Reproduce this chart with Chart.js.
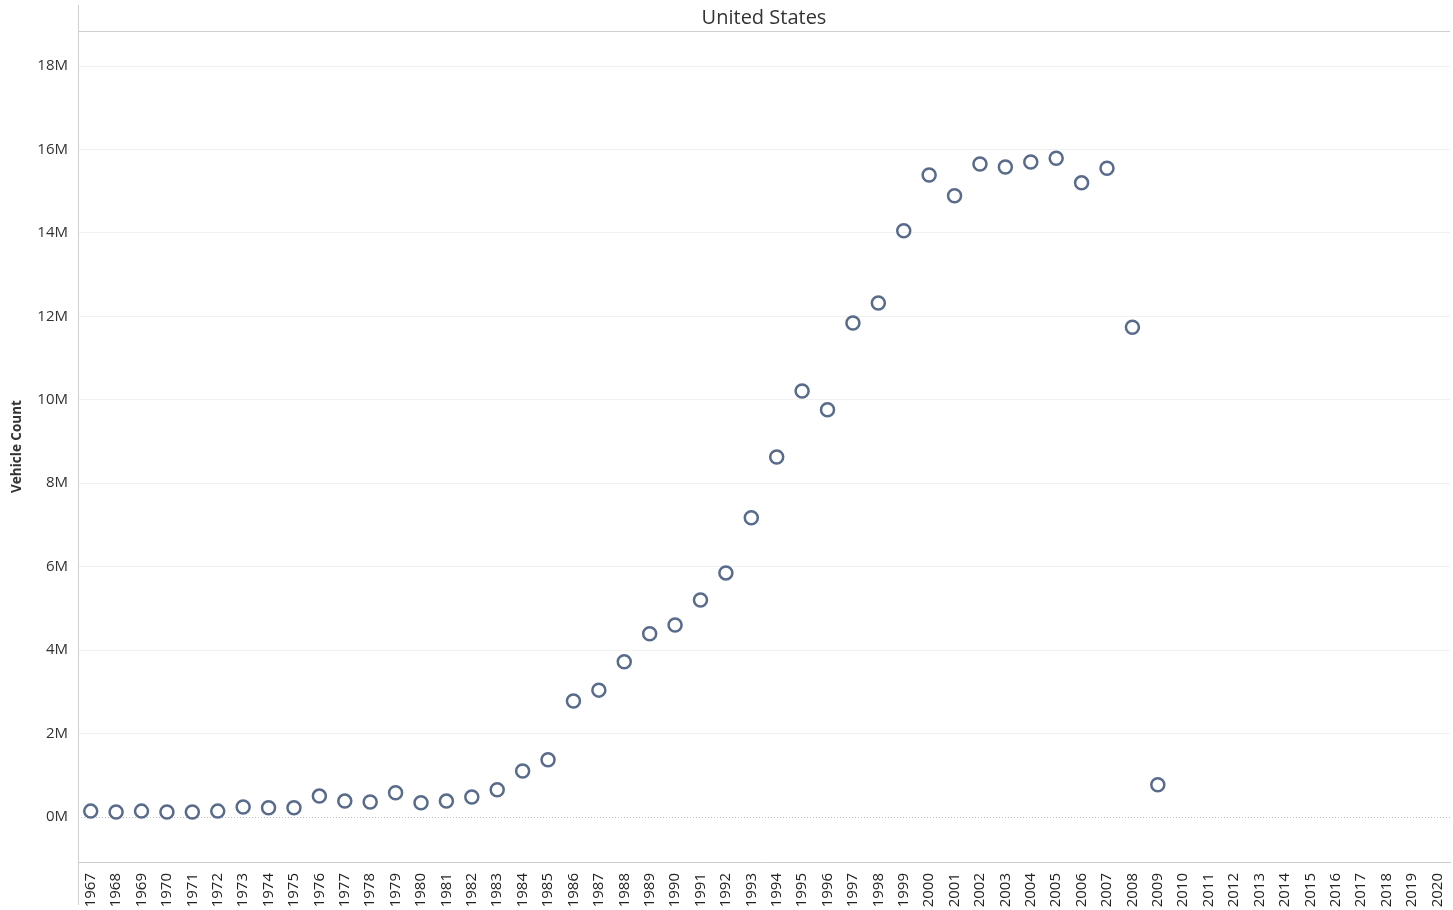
<!DOCTYPE html>
<html>
<head>
<meta charset="utf-8">
<script src="https://cdn.jsdelivr.net/npm/chart.js@4.4.0/dist/chart.umd.min.js"></script>
<style>
  html, body { margin: 0; padding: 0; background: #fff; }
  #wrap { width: 1453px; height: 910px; position: relative; }
</style>
</head>
<body>
<div id="wrap"><canvas id="chart"></canvas></div>
<script>
// years on the x axis
var years = [];
for (var y = 1967; y <= 2020; y++) years.push(String(y));

// vehicle counts (millions), 1967..2009, nothing after
var vehicleCount = [
    0.14, 0.12, 0.14, 0.12, 0.12, 0.14, 0.24, 0.22, 0.22, 0.50,
    0.38, 0.36, 0.58, 0.34, 0.38, 0.48, 0.65, 1.10, 1.37, 2.78,
    3.04, 3.72, 4.39, 4.60, 5.20, 5.85, 7.17, 8.63, 10.21, 9.76,
    11.84, 12.32, 14.05, 15.39, 14.89, 15.65, 15.58, 15.70, 15.79, 15.20,
    15.55, 11.74, 0.77
];

var yTicks = [0, 2, 4, 6, 8, 10, 12, 14, 16, 18];

var chartTitle = 'United States';
var yTitle = 'Vehicle Count';

var points = years.map(function(yr, i) {
    return i < vehicleCount.length ? vehicleCount[i] * 1e6 : null;
});

var FONT = '"Open Sans", "Noto Sans", sans-serif';

// frame: title band, header rule, left rule and dotted zero line
var framePlugin = {
    id: 'frame',
    beforeDatasetsDraw: function(chart) {
        var ctx = chart.ctx, a = chart.chartArea;
        var y0 = Math.round(chart.scales.y.getPixelForValue(0)) + 0.5;
        ctx.save();
        ctx.strokeStyle = '#bdbdbd';
        ctx.lineWidth = 1;
        ctx.setLineDash([1, 2]);
        ctx.beginPath();
        ctx.moveTo(a.left, y0);
        ctx.lineTo(a.right, y0);
        ctx.stroke();
        ctx.restore();
    },
    afterDraw: function(chart) {
        var ctx = chart.ctx, a = chart.chartArea;
        ctx.save();
        ctx.strokeStyle = '#cfcfcf';
        ctx.lineWidth = 1;
        ctx.beginPath();
        ctx.moveTo(a.left, a.top + 0.5);
        ctx.lineTo(a.right, a.top + 0.5);
        ctx.moveTo(a.left + 0.5, 5);
        ctx.lineTo(a.left + 0.5, 905);
        ctx.stroke();

        ctx.fillStyle = '#333';
        ctx.font = '20px ' + FONT;
        ctx.textAlign = 'center';
        ctx.textBaseline = 'middle';
        ctx.fillText(chartTitle, (a.left + a.right) / 2, 18);

        ctx.translate(17, (a.top + a.bottom) / 2);
        ctx.rotate(-Math.PI / 2);
        ctx.font = 'bold 13.5px ' + FONT;
        ctx.fillStyle = '#333';
        ctx.fillText(yTitle, 0, 0);
        ctx.restore();
    }
};

new Chart(document.getElementById('chart'), {
    type: 'line',
    data: {
        labels: years,
        datasets: [{
            label: 'Vehicle Count',
            data: points,
            showLine: false,
            pointStyle: 'circle',
            pointRadius: 6.5,
            pointHoverRadius: 6.5,
            pointBorderWidth: 2.5,
            pointBorderColor: '#586b8b',
            pointBackgroundColor: 'rgba(255,255,255,0)'
        }]
    },
    options: {
        responsive: true,
        maintainAspectRatio: false,
        animation: false,
        layout: {
            autoPadding: false,
            padding: { top: 31, right: 3, left: 0, bottom: 0 }
        },
        plugins: {
            legend: { display: false },
            title: { display: false },
            tooltip: { enabled: false }
        },
        scales: {
            x: {
                offset: true,
                grid: { display: false },
                border: { display: true, color: '#cccccc', dash: [1, 1] },
                ticks: {
                    autoSkip: false,
                    minRotation: 90,
                    maxRotation: 90,
                    padding: 3,
                    color: '#222',
                    font: { family: FONT, size: 15 }
                },
                afterFit: function(scale) {
                    scale.height = 48;
                    scale.paddingLeft = 0;
                    scale.paddingRight = 0;
                }
            },
            y: {
                min: -1.08e6,
                max: 18.84e6,
                border: { display: false },
                grid: {
                    drawTicks: false,
                    color: function(c) {
                        return c.tick && c.tick.value === 0 ? 'rgba(0,0,0,0)' : '#f1f1f1';
                    }
                },
                afterBuildTicks: function(scale) {
                    scale.ticks = yTicks.map(function(v) { return { value: v * 1e6 }; });
                },
                ticks: {
                    padding: 10,
                    color: '#333',
                    font: { family: FONT, size: 15 },
                    callback: function(v) { return Math.round(v / 1e6) + 'M'; }
                },
                afterFit: function(scale) {
                    scale.width = 78;
                    scale.paddingTop = 0;
                    scale.paddingBottom = 0;
                }
            }
        }
    },
    plugins: [framePlugin]
});
</script>
</body>
</html>
